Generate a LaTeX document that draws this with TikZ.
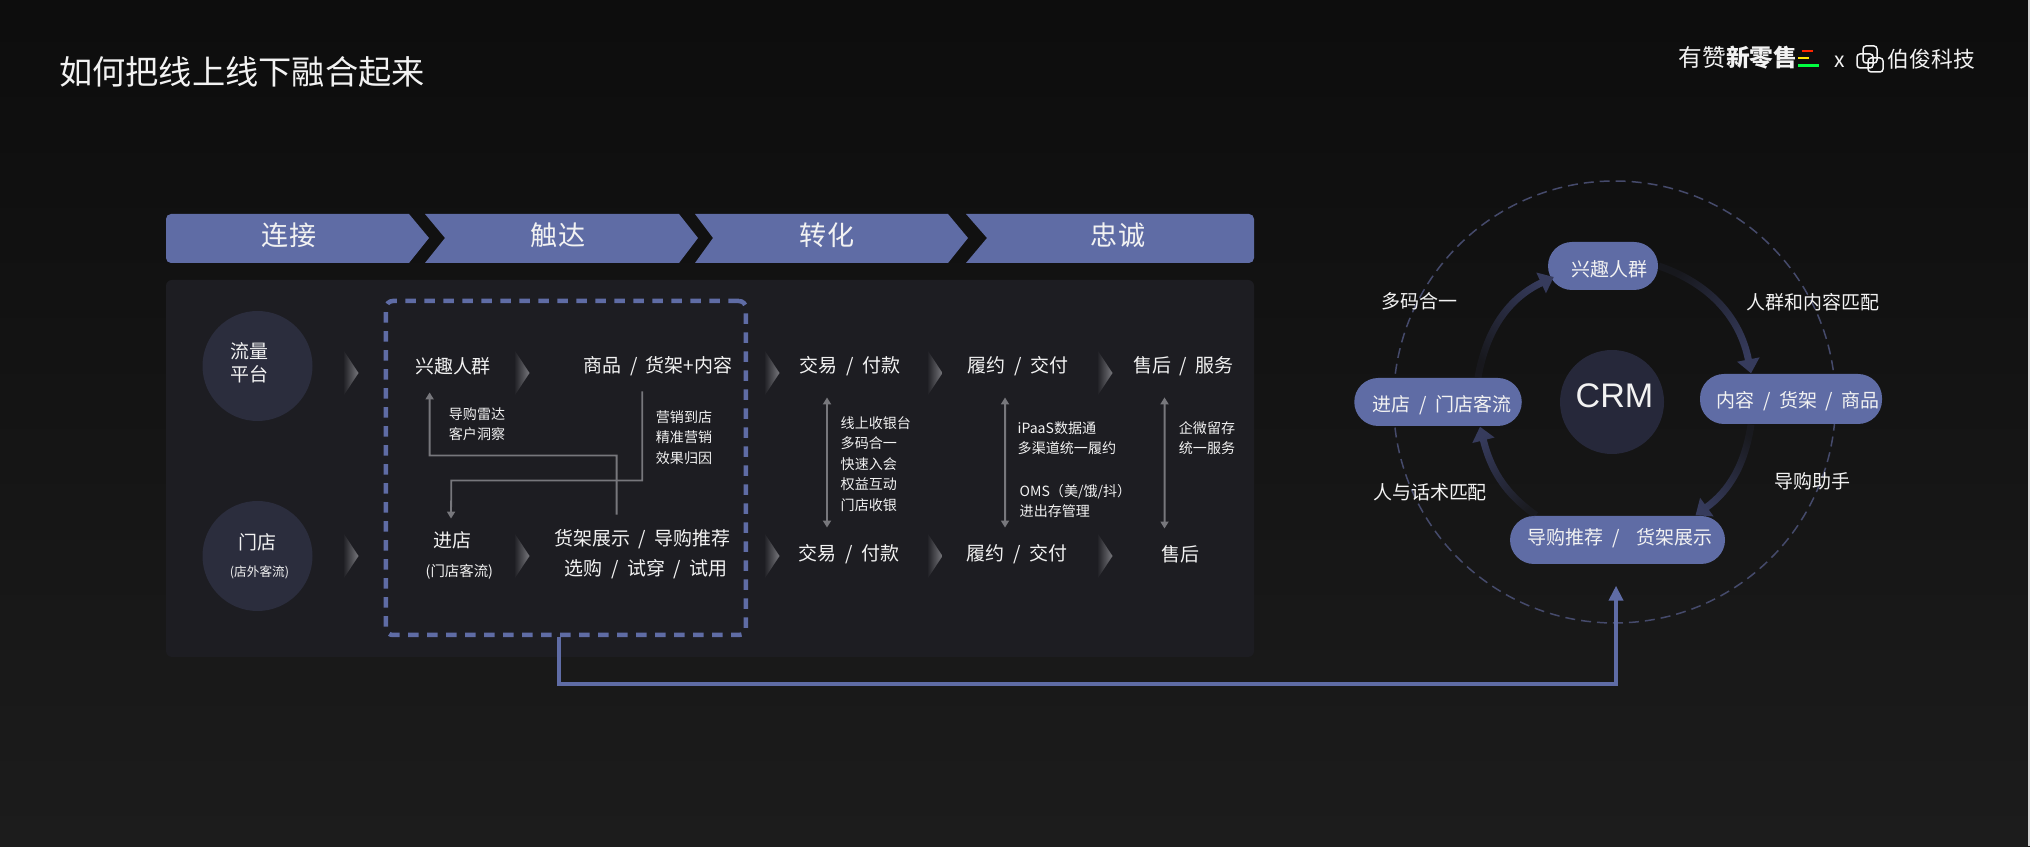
\documentclass[tikz,border=0pt]{standalone}
\usepackage{fontspec}
\setmainfont[WordSpace=2]{Noto Sans CJK SC}
\newfontfamily\crmfont{Liberation Sans}
\usetikzlibrary{arrows.meta,fadings}
\definecolor{bannerblue}{HTML}{5F6CA5}
\definecolor{panelgrey}{HTML}{1D1D22}
\definecolor{discgrey}{HTML}{2B2D3D}
\definecolor{crmgrey}{HTML}{26283A}
\definecolor{wordwhite}{HTML}{F2F2F2}
\definecolor{linegrey}{HTML}{77777C}
\definecolor{ringblue}{HTML}{454A6B}
\definecolor{cycleblue}{HTML}{363B5C}
\tikzfading[name=cyclefade, left color=transparent!85, right color=transparent!0]
\tikzset{
	word/.style={text=wordwhite, inner sep=0pt, align=center, font=\fontsize{5.4}{6.54}\selectfont},
	note/.style={text=wordwhite, inner sep=0pt, align=left, font=\fontsize{4}{5.8}\selectfont},
	banner/.style={text=wordwhite, inner sep=0pt, font=\fontsize{7.7}{9}\selectfont},
	disc/.style={circle, fill=discgrey, inner sep=0pt, minimum size=1.10cm},
	pill/.style={fill=bannerblue, inner sep=0pt, rounded corners=.24cm, minimum height=.48cm},
	elbow/.style={draw=linegrey, line width=.018cm, -{Triangle[length=.07cm,width=.08cm]}},
	span/.style={draw=linegrey, line width=.02cm, {Triangle[length=.07cm,width=.08cm]}-{Triangle[length=.07cm,width=.08cm]}},
	cycle/.style={draw=cycleblue, line width=.07cm, -{Triangle[length=.14cm,width=.22cm]}, path fading=cyclefade, fading angle=#1},
}
\begin{document}
\begin{tikzpicture}
	\useasboundingbox (0,0) rectangle (20.30,8.46);
	% backdrop
	\shade[top color=black!95!white, bottom color=black!89!white] (0,0) rectangle (20.30,8.46);
	\fill[black!18] (20.28,0) rectangle (20.30,8.46);
	% heading and logos
	\node[word, font=\fontsize{9.45}{11}\selectfont] (heading) at (2.42,7.74) {如何把线上线下融合起来};
	\node[word, font=\fontsize{6.75}{8}\selectfont] (youzan) at (17.38,7.885) {有赞{\bfseries 新零售}};
	\fill[red!70!orange] (18.017,7.943) rectangle (18.127,7.957);
	\fill[yellow!85!orange] (17.98,7.867) rectangle (18.09,7.887);
	\fill[green!75!cyan] (17.98,7.785) rectangle (18.19,7.815);
	\node[word, font=\fontsize{6}{7}\selectfont] (times) at (18.40,7.84) {x};
	\draw[wordwhite, line width=.015cm, rounded corners=.03cm] (18.57,7.92) rectangle (18.73,7.78);
	\draw[wordwhite, line width=.015cm, rounded corners=.03cm] (18.63,8.00) rectangle (18.77,7.83);
	\draw[wordwhite, line width=.015cm, rounded corners=.03cm] (18.68,7.88) rectangle (18.83,7.74);
	\node[word, font=\fontsize{6.2}{7}\selectfont] (bojun) at (19.315,7.87) {伯俊科技};
	% banner
	\fill[bannerblue] (1.66,6.08) [rounded corners=.05cm] -- (1.66,6.32) [sharp corners] -- (4.09,6.32) -- (4.29,6.08) -- (4.09,5.83) [rounded corners=.05cm] -- (1.66,5.83) [sharp corners] -- cycle;
	\fill[bannerblue] (4.25,6.32) -- (6.79,6.32) -- (6.98,6.08) -- (6.79,5.83) -- (4.25,5.83) -- (4.45,6.08) -- cycle;
	\fill[bannerblue] (6.95,6.32) -- (9.48,6.32) -- (9.68,6.08) -- (9.48,5.83) -- (6.95,5.83) -- (7.13,6.08) -- cycle;
	\fill[bannerblue] (9.66,6.32) [rounded corners=.05cm] -- (12.54,6.32) -- (12.54,5.83) [sharp corners] -- (9.66,5.83) -- (9.87,6.08) -- cycle;
	\node[banner] (connect) at (2.89,6.11) {连接};
	\node[banner] (reach) at (5.58,6.11) {触达};
	\node[banner] (convert) at (8.27,6.11) {转化};
	\node[banner] (loyal) at (11.18,6.11) {忠诚};
	% panel
	\fill[panelgrey, rounded corners=.06cm] (1.66,1.89) rectangle (12.54,5.66);
	\node[disc] (flow) at (2.575,4.80) {};
	\node[disc] (door) at (2.575,2.90) {};
	\node[word] (flowword) at (2.495,4.835) {流量\\平台};
	\node[word] (doorword) at (2.575,3.04) {门店};
	\node[word, font=\fontsize{3.6}{4}\selectfont] (doorsub) at (2.595,2.74) {(店外客流)};
	% fading tips
	\foreach \x in {3.43,5.14,7.64,9.27,10.97}
		\foreach \y in {4.73,2.90}
			\shade[left color=panelgrey, right color=linegrey] (\x,\y+.235) -- (\x+.155,\y) -- (\x,\y-.235) -- cycle;
	% dashed block
	\node[draw=bannerblue, line width=.045cm, dash pattern=on .105cm off .085cm, rounded corners=.07cm, inner sep=0pt, minimum width=3.60cm, minimum height=3.34cm] (block) at (5.659,3.78) {};
	% top row
	\node[word] (crowd) at (4.53,4.80) {兴趣人群};
	\node[word] (goods) at (6.58,4.80) {商品 / 货架+内容};
	\node[word] (pay) at (8.50,4.80) {交易 / 付款};
	\node[word] (ship) at (10.18,4.80) {履约 / 交付};
	\node[word] (care) at (11.835,4.80) {售后 / 服务};
	% bottom row
	\node[word] (enter) at (4.52,3.06) {进店};
	\node[word, font=\fontsize{4.1}{5}\selectfont] (entersub) at (4.594,2.74) {(门店客流)};
	\node[word] (shelf) at (6.426,3.07) {货架展示 / 导购推荐};
	\node[word] (pick) at (6.46,2.77) {选购 / 试穿 / 试用};
	\node[word] (paylow) at (8.49,2.92) {交易 / 付款};
	\node[word] (shiplow) at (10.17,2.92) {履约 / 交付};
	\node[word] (carelow) at (11.80,2.92) {售后};
	% notes
	\node[note] (radar) at (4.77,4.215) {导购雷达\\客户洞察};
	\node[note] (market) at (6.84,4.085) {营销到店\\精准营销\\效果归因};
	\node[note, anchor=west] (cash) at (8.40,3.82) {线上收银台\\多码合一\\快速入会\\权益互动\\门店收银};
	\node[note, anchor=west] (ipaas) at (10.17,4.08) {iPaaS数据通\\多渠道统一履约};
	\node[note, anchor=west] (oms) at (10.19,3.45) {OMS（美/饿/抖）\\进出存管理};
	\node[note] (wecom) at (12.07,4.08) {企微留存\\统一服务};
	% lines in the block
	\draw[elbow] ([xshift=-.26cm,yshift=.14cm]shelf.north) |- ++(-1.87,.59) -- ([xshift=-.234cm,yshift=-.17cm]crowd.south);
	\draw[elbow] ([xshift=-.157cm,yshift=-.15cm]goods.south) |- ++(-1.91,-.89) -- ([yshift=.12cm,xshift=-.01cm]enter.north);
	\draw[span] ([xshift=-.23cm,yshift=-.21cm]pay.south) -- ([xshift=-.22cm,yshift=.16cm]paylow.north);
	\draw[span] ([xshift=-.13cm,yshift=-.21cm]ship.south) -- ([xshift=-.12cm,yshift=.16cm]shiplow.north);
	\draw[span] ([xshift=-.19cm,yshift=-.21cm]care.south) -- ([xshift=-.155cm,yshift=.16cm]carelow.north);
	% crm ring
	\draw[ringblue, line width=.015cm, dash pattern=on .10cm off .06cm] (16.145,4.44) circle (2.21);
	\node[pill, minimum width=1.10cm] (crowdpill) at (16.03,5.80) {};
	\node[pill, minimum width=1.82cm, minimum height=.50cm] (goodspill) at (17.91,4.47) {};
	\node[pill, minimum width=1.675cm] (storepill) at (14.38,4.44) {};
	\node[pill, minimum width=2.15cm] (guidepill) at (16.175,3.06) {};
	\node[word] (crowdword) at (16.09,5.77) {兴趣人群};
	\node[word] (goodsword) at (17.98,4.45) {内容 / 货架 / 商品};
	\node[word] (storeword) at (14.42,4.404) {进店 / 门店客流};
	\node[word] (guideword) at (16.20,3.08) {导购推荐 /\ \ 货架展示};
	\node[circle, fill=crmgrey, inner sep=0pt, minimum size=1.04cm] (crm) at (16.12,4.44) {};
	\node[word, font=\fontsize{9.7}{10}\crmfont] (crmword) at (16.145,4.50) {CRM};
	\draw[cycle=-50] (crowdpill.east) to[out=-19,in=101] ([xshift=-.40cm]goodspill.north);
	\draw[cycle=-120] ([xshift=-.40cm]goodspill.south) to[out=-99,in=36] ([xshift=.78cm]guidepill.north);
	\draw[cycle=120] ([xshift=-.815cm]guidepill.north) to[out=145,in=-76] ([xshift=.42cm]storepill.south);
	\draw[cycle=50] ([xshift=.40cm]storepill.north) to[out=80,in=205] ([xshift=.065cm,yshift=-.11cm]crowdpill.west);
	\node[word] (multi) at (14.19,5.443) {多码合一};
	\node[word] (match) at (18.126,5.44) {人群和内容匹配};
	\node[word] (assist) at (18.12,3.65) {导购助手};
	\node[word] (script) at (14.30,3.533) {人与话术匹配};
	% link to the ring
	\draw[bannerblue, line width=.04cm, -{Triangle[length=.15cm,width=.14cm]}] ([xshift=-.069cm]block.south) -- ++(0,-.47) -| ([xshift=-.015cm,yshift=-.21cm]guidepill.south);
\end{tikzpicture}
\end{document}
